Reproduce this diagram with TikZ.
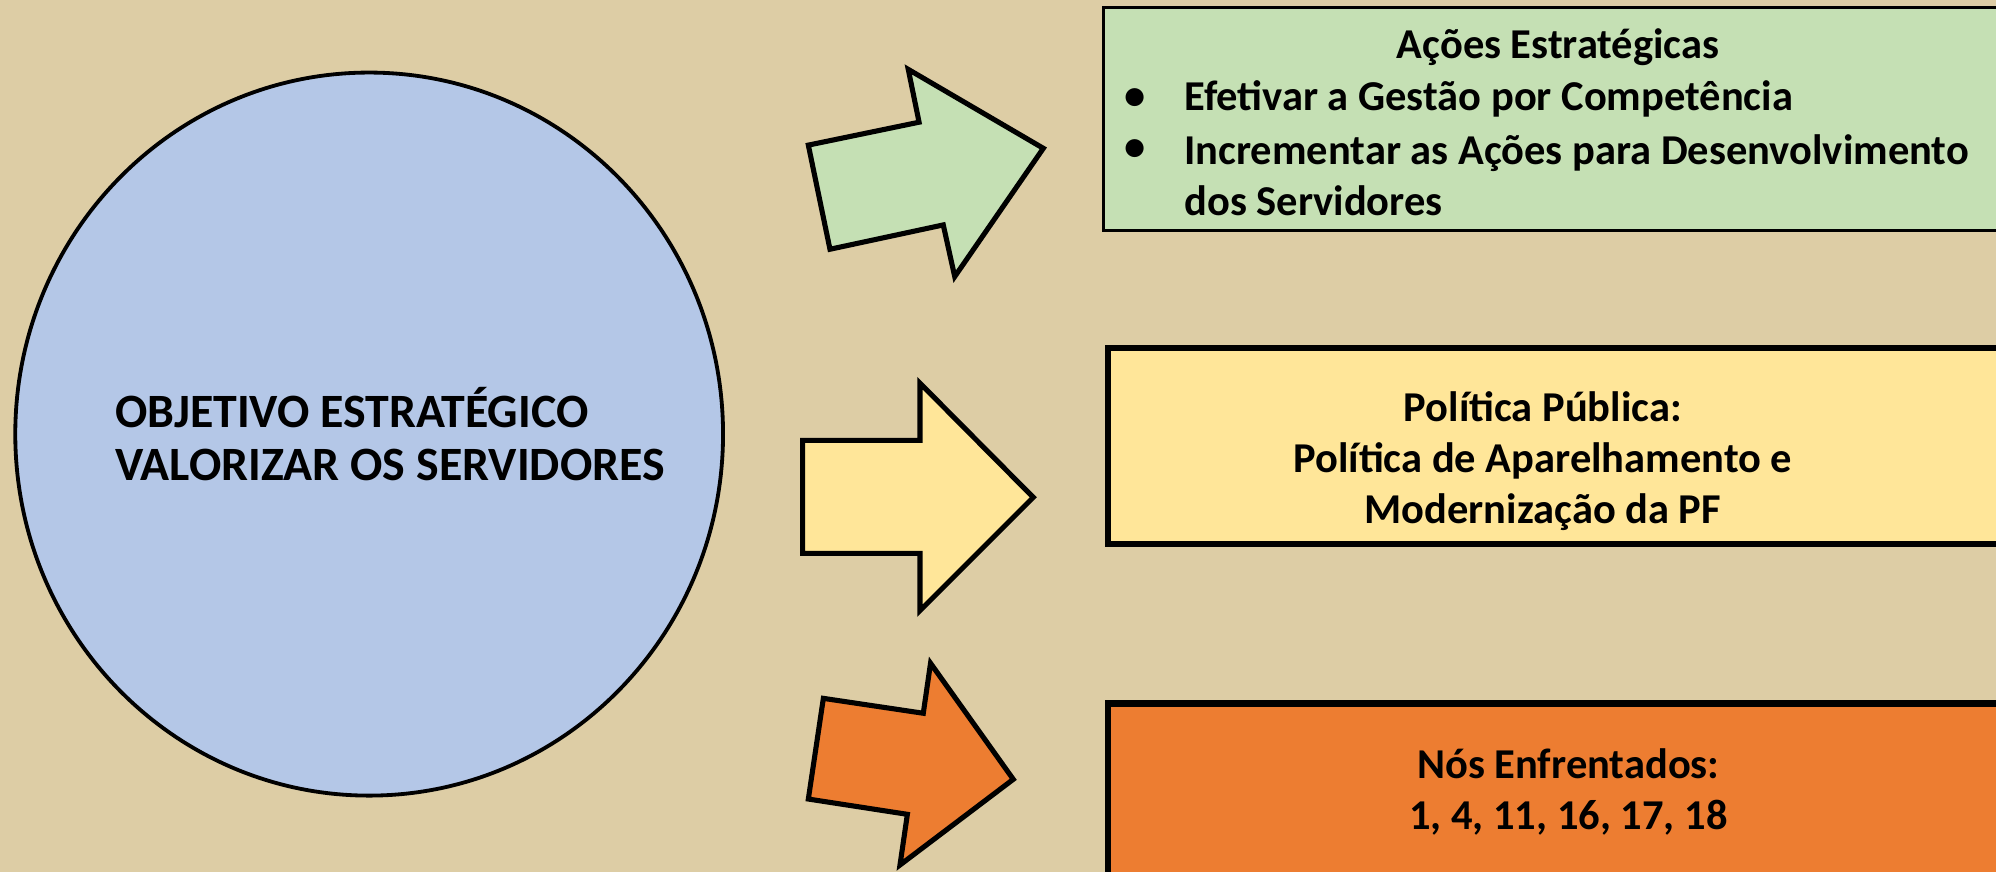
\documentclass[tikz,border=0pt]{standalone}
\usepackage{fontspec}
\setmainfont{Carlito}
\usetikzlibrary{shapes.geometric}
\definecolor{fundo}{HTML}{DDCDA5}
\definecolor{azulobj}{HTML}{B4C7E7}
\definecolor{verdeacao}{HTML}{C5E0B4}
\definecolor{amarelopol}{HTML}{FFE699}
\definecolor{laranjanos}{HTML}{ED7D31}
\begin{document}
\begin{tikzpicture}[x=0.5pt, y=-0.5pt,
    every node/.style={font=\bfseries\fontsize{16.7}{20}\selectfont, inner sep=0pt},
    caixa/.style={draw=black, anchor=north west, minimum width=370pt},
    seta/.style={draw=black, line width=2pt, line join=miter}]
        % Background
        \fill[fundo] (0,0) rectangle (1568,685);
        \useasboundingbox (0,0) rectangle (1568,685);

        % Objective circle
        \node[ellipse, draw, fill=azulobj, line width=1.5pt, minimum width=278pt, minimum height=284pt] (objetivo) at (290,341) {};
        \node[font=\bfseries\fontsize{18.8}{20.5}\selectfont, align=left, anchor=west] (objtxt) at (90,341) {OBJETIVO ESTRATÉGICO\\VALORIZAR OS SERVIDORES};

        % Boxes on the right
        \node[caixa, fill=verdeacao, line width=1pt, minimum height=87.5pt] (acoes) at (866,5) {};
        \node[caixa, fill=amarelopol, line width=2.5pt, minimum height=77pt] (politica) at (868,271) {};
        \node[caixa, fill=laranjanos, line width=2.5pt, minimum height=80pt] (nos) at (868,550) {};

        % Arrows
        \draw[seta, fill=verdeacao] (635,114) -- (722,96) -- (713.5,54.5) -- (819.6,116.5) -- (750,217.3) -- (741,176.7) -- (652,195.8) -- cycle;
        \draw[seta, fill=amarelopol] (630.5,346) -- (722.7,346) -- (722.7,301) -- (811.7,390.7) -- (722.7,479.7) -- (722.7,434.7) -- (630.5,434.7) -- cycle;
        \draw[seta, fill=laranjanos] (646.8,548.6) -- (725.3,560.3) -- (731,521) -- (796,612.2) -- (707,679.5) -- (712.8,639.7) -- (635,627.7) -- cycle;

        % Texts in the boxes
        \node (acoestit) at (1224,37) {Ações Estratégicas};
        \node (bala1) at (892,78) {•};
        \node (bala2) at (892,118) {•};
        \node[anchor=west] (item1) at (930,78) {Efetivar a Gestão por Competência};
        \node[anchor=west, align=left] (item2) at (930,138) {Incrementar as Ações para Desenvolvimento\\dos Servidores};
        \node[align=center] (poltxt) at (1212,362) {Política Pública:\\Política de Aparelhamento e\\Modernização da PF};
        \node[align=center] (nostxt) at (1232,622) {Nós Enfrentados:\\1, 4, 11, 16, 17, 18};
    \end{tikzpicture}
\end{document}
